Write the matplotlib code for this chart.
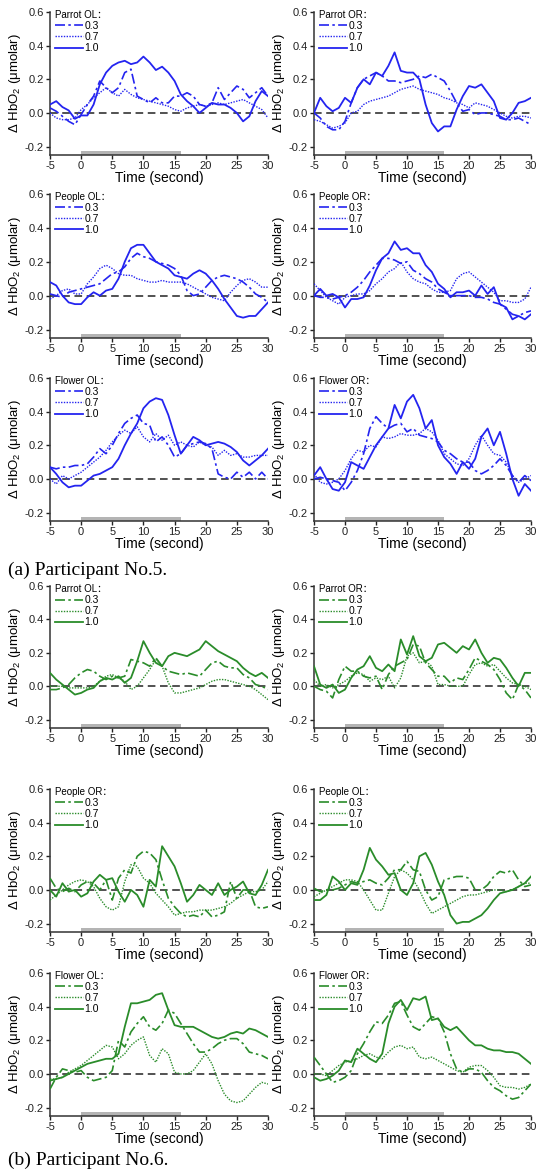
import matplotlib
matplotlib.use("Agg")
import matplotlib.pyplot as plt
import numpy as np

plt.rcParams['font.family'] = ['Liberation Sans', 'Noto Sans CJK SC', 'DejaVu Sans']
plt.rcParams['mathtext.fontset'] = 'custom'
plt.rcParams['mathtext.rm'] = 'Liberation Sans'
plt.rcParams['axes.unicode_minus'] = False

TIME = list(range(-5, 31))
STIM = (0, 16)
LEVELS = ["0.3", "0.7", "1.0"]
TITLES_A = ["Parrot OL\uff1a", "Parrot OR\uff1a", "People OL\uff1a", "People OR\uff1a", "Flower OL\uff1a", "Flower OR\uff1a"]
TITLES_B = ["Parrot OL\uff1a", "Parrot OR\uff1a", "People OR\uff1a", "People OL\uff1a", "Flower OL\uff1a", "Flower OR\uff1a"]
CAPTIONS = ["(a) Participant No.5.", "(b) Participant No.6."]
XTICKS = [-5, 0, 5, 10, 15, 20, 25, 30]
YTICKS = [-0.2, 0.0, 0.2, 0.4, 0.6]

# ---- Participant No.5 (blue) ----
A_PARROT_OL_03 = [0.03,0.01,-0.02,-0.05,-0.07,-0.01,0.05,0.10,0.19,0.15,0.12,0.15,0.24,0.26,0.10,0.08,0.06,0.09,0.06,0.06,0.10,0.10,0.12,0.10,0.05,0.04,0.06,0.15,0.08,0.12,0.16,0.14,0.09,0.12,0.15,0.10]
A_PARROT_OL_07 = [0.00,-0.03,-0.04,-0.04,-0.03,0.02,0.05,0.09,0.12,0.15,0.12,0.10,0.14,0.11,0.09,0.08,0.07,0.06,0.05,0.04,0.02,0.01,0.03,0.04,0.05,0.04,0.05,0.06,0.05,0.06,0.07,0.08,0.06,0.04,0.02,-0.03]
A_PARROT_OL_10 = [0.05,0.07,0.035,0.015,-0.035,-0.015,-0.015,0.05,0.17,0.24,0.28,0.30,0.31,0.29,0.30,0.335,0.30,0.255,0.275,0.24,0.19,0.11,0.07,0.04,0.00,0.03,0.06,0.05,0.05,0.03,0.00,-0.05,-0.02,0.07,0.13,0.10]

A_PARROT_OR_03 = [0.00,-0.03,-0.08,-0.10,-0.10,-0.05,0.06,0.15,0.20,0.22,0.24,0.22,0.19,0.19,0.18,0.19,0.20,0.22,0.21,0.23,0.21,0.19,0.13,0.06,0.01,0.02,-0.01,0.00,0.00,-0.01,-0.02,-0.04,-0.04,-0.03,-0.05,-0.07]
A_PARROT_OR_07 = [-0.04,-0.05,-0.07,-0.09,-0.08,-0.06,0.00,0.01,0.05,0.07,0.08,0.09,0.10,0.12,0.14,0.15,0.16,0.14,0.13,0.12,0.11,0.09,0.08,0.06,0.05,0.03,0.06,0.05,0.04,0.02,0.00,-0.02,-0.03,-0.02,-0.02,-0.03]
A_PARROT_OR_10 = [0.00,0.09,0.04,0.01,0.03,0.09,0.06,0.15,0.20,0.17,0.24,0.22,0.28,0.36,0.25,0.24,0.24,0.20,0.05,-0.06,-0.11,-0.08,-0.08,0.02,0.10,0.16,0.15,0.17,0.12,0.07,-0.03,-0.04,0.00,0.06,0.07,0.09]

A_PEOPLE_OL_03 = [0.01,0.00,-0.01,0.02,0.03,0.04,0.05,0.06,0.07,0.10,0.13,0.14,0.17,0.22,0.25,0.23,0.22,0.20,0.19,0.18,0.16,0.12,0.03,0.00,0.01,0.05,0.09,0.11,0.12,0.11,0.10,0.08,0.05,0.01,-0.01,-0.04]
A_PEOPLE_OL_07 = [-0.02,0.00,0.03,0.04,0.01,0.01,0.07,0.11,0.16,0.18,0.16,0.13,0.12,0.12,0.10,0.09,0.08,0.08,0.09,0.08,0.08,0.08,0.07,0.05,0.03,0.01,-0.01,-0.02,-0.03,0.02,0.06,0.09,0.10,0.08,0.05,0.05]
A_PEOPLE_OL_10 = [0.08,0.06,0.00,-0.04,-0.05,-0.05,-0.01,0.02,0.00,0.03,0.04,0.10,0.20,0.28,0.30,0.30,0.25,0.20,0.18,0.16,0.12,0.11,0.10,0.13,0.15,0.13,0.09,0.04,-0.02,-0.07,-0.12,-0.13,-0.12,-0.12,-0.08,-0.04]

A_PEOPLE_OR_03 = [0.00,-0.01,-0.01,-0.02,-0.01,0.00,0.02,0.05,0.09,0.14,0.18,0.22,0.22,0.21,0.19,0.20,0.15,0.13,0.10,0.08,0.04,0.02,0.00,0.00,0.00,0.00,-0.01,-0.01,-0.02,-0.04,-0.05,-0.08,-0.11,-0.12,-0.10,-0.09]
A_PEOPLE_OR_07 = [0.07,0.03,-0.01,-0.03,-0.05,-0.01,0.00,0.01,0.01,0.03,0.07,0.10,0.14,0.16,0.20,0.14,0.10,0.08,0.07,0.04,0.02,0.02,0.03,0.10,0.13,0.14,0.11,0.08,0.05,0.02,-0.03,-0.03,-0.04,-0.04,-0.02,0.05]
A_PEOPLE_OR_10 = [0.00,0.04,0.00,0.01,-0.01,-0.07,-0.02,-0.02,-0.01,0.06,0.15,0.22,0.25,0.32,0.27,0.28,0.25,0.25,0.18,0.14,0.07,0.04,-0.01,0.02,0.02,0.03,0.00,0.06,0.01,0.05,-0.05,-0.07,-0.14,-0.12,-0.14,-0.11]

A_FLOWER_OL_03 = [0.07,0.06,0.07,0.07,0.08,0.08,0.09,0.13,0.18,0.15,0.20,0.27,0.33,0.36,0.38,0.33,0.32,0.22,0.25,0.20,0.13,0.15,0.20,0.21,0.22,0.21,0.18,0.03,0.01,0.00,0.04,0.01,0.04,0.00,0.04,0.00]
A_FLOWER_OL_07 = [0.00,-0.03,0.02,0.00,0.02,0.04,0.07,0.10,0.13,0.17,0.22,0.26,0.29,0.27,0.31,0.25,0.22,0.27,0.23,0.26,0.20,0.22,0.20,0.19,0.22,0.20,0.19,0.14,0.17,0.14,0.15,0.13,0.13,0.14,0.14,0.14]
A_FLOWER_OL_10 = [0.07,0.03,-0.02,-0.05,-0.04,-0.04,-0.01,0.02,0.03,0.05,0.07,0.12,0.20,0.27,0.33,0.42,0.46,0.48,0.47,0.38,0.26,0.15,0.20,0.25,0.23,0.20,0.21,0.22,0.21,0.19,0.16,0.11,0.08,0.11,0.14,0.18]

A_FLOWER_OR_03 = [0.00,0.01,0.00,-0.01,-0.02,-0.07,-0.02,0.05,0.15,0.30,0.37,0.33,0.30,0.32,0.33,0.28,0.30,0.26,0.25,0.24,0.22,0.17,0.15,0.12,0.10,0.10,0.05,0.03,0.05,0.08,0.12,0.08,0.02,-0.02,0.02,-0.01]
A_FLOWER_OR_07 = [0.03,-0.02,-0.03,-0.02,0.00,0.05,0.12,0.17,0.16,0.20,0.19,0.25,0.24,0.25,0.27,0.26,0.26,0.27,0.30,0.28,0.23,0.15,0.12,0.09,0.08,0.12,0.20,0.26,0.20,0.15,0.14,0.10,0.02,-0.02,0.00,0.02]
A_FLOWER_OR_10 = [0.02,0.07,0.00,-0.06,-0.07,-0.02,0.10,0.08,0.06,0.13,0.20,0.25,0.30,0.44,0.36,0.46,0.50,0.42,0.30,0.35,0.20,0.13,0.09,0.03,0.10,0.06,0.12,0.25,0.30,0.20,0.28,0.15,0.00,-0.10,-0.03,-0.07]

# ---- Participant No.6 (green) ----
B_PARROT_OL_03 = [-0.02,-0.02,-0.01,0.01,0.05,0.08,0.10,0.09,0.06,0.04,0.06,0.05,0.06,0.16,0.15,0.14,0.12,0.17,0.12,0.09,0.08,0.07,0.08,0.07,0.06,0.10,0.14,0.15,0.12,0.11,0.11,0.07,0.05,0.01,0.00,-0.02]
B_PARROT_OL_07 = [0.00,0.00,0.00,-0.01,-0.01,-0.01,-0.01,0.00,0.03,0.06,0.07,0.05,0.03,-0.02,0.00,0.05,0.10,0.16,0.12,0.02,-0.04,-0.04,-0.03,-0.02,-0.01,0.01,0.03,0.04,0.04,0.03,0.02,0.01,0.00,-0.02,-0.05,-0.08]
B_PARROT_OL_10 = [0.08,0.04,0.01,-0.02,-0.05,-0.04,-0.02,-0.01,0.03,0.05,0.04,0.06,0.02,0.05,0.15,0.27,0.20,0.14,0.12,0.18,0.20,0.19,0.18,0.20,0.22,0.27,0.24,0.21,0.19,0.17,0.15,0.11,0.08,0.06,0.08,0.05]

B_PARROT_OR_03 = [0.00,-0.02,-0.03,-0.07,0.04,0.12,0.09,0.09,0.06,0.05,0.06,-0.02,0.07,0.12,0.14,0.16,0.25,0.24,0.14,0.10,0.06,0.06,0.02,0.05,0.04,0.10,0.17,0.15,0.13,0.10,0.04,-0.04,-0.08,0.01,-0.02,-0.07]
B_PARROT_OR_07 = [0.04,0.00,0.01,-0.01,0.01,0.03,0.06,0.08,0.07,0.03,0.05,0.04,0.06,-0.01,0.05,0.18,0.20,0.14,0.15,0.12,0.01,0.01,0.00,0.00,0.00,0.07,0.13,0.14,0.12,0.13,0.09,0.05,0.02,0.01,0.00,-0.02]
B_PARROT_OR_10 = [0.12,0.01,-0.01,0.01,-0.04,-0.02,0.05,0.10,0.12,0.18,0.11,0.09,0.13,0.09,0.28,0.19,0.30,0.18,0.15,0.17,0.25,0.26,0.23,0.20,0.24,0.22,0.28,0.20,0.14,0.17,0.16,0.11,0.05,0.00,0.08,0.08]

B_PEOPLE_OR_03 = [0.07,0.01,-0.01,0.01,-0.01,0.03,0.05,0.04,0.00,0.06,-0.06,0.07,0.12,0.10,0.20,0.23,0.22,0.18,0.06,-0.05,-0.10,-0.14,-0.16,-0.15,-0.16,-0.12,-0.16,-0.15,-0.13,0.05,-0.05,0.00,0.00,-0.10,-0.11,-0.10]
B_PEOPLE_OR_07 = [-0.06,-0.03,0.00,0.03,0.05,0.06,0.05,0.02,-0.05,-0.10,-0.12,-0.10,0.05,0.15,0.14,0.07,0.04,-0.02,-0.06,-0.10,-0.15,-0.14,-0.13,-0.13,-0.12,-0.12,-0.12,-0.11,-0.10,-0.08,-0.05,-0.03,-0.01,-0.01,0.00,0.05]
B_PEOPLE_OR_10 = [0.00,-0.04,0.04,-0.01,0.00,-0.04,-0.02,0.05,0.09,0.06,0.07,-0.01,-0.07,0.00,-0.03,-0.10,0.06,0.02,0.26,0.20,0.14,0.04,-0.07,-0.03,0.03,0.00,-0.03,0.04,-0.03,0.00,0.02,0.05,-0.02,-0.03,0.03,0.12]

B_PEOPLE_OL_03 = [0.01,-0.01,0.00,0.00,0.01,0.03,0.05,0.04,0.05,0.06,0.04,0.03,0.07,0.12,0.12,0.17,0.12,0.11,0.00,-0.06,-0.04,0.06,0.07,0.08,0.08,0.07,0.00,0.00,0.03,0.08,0.11,0.10,0.12,0.06,0.02,0.03]
B_PEOPLE_OL_07 = [-0.04,-0.02,0.00,0.02,0.04,0.06,0.06,0.05,0.00,-0.06,-0.12,-0.12,-0.02,0.08,0.12,0.10,0.06,0.00,-0.08,-0.14,-0.12,-0.10,-0.08,-0.06,-0.04,-0.03,-0.03,-0.02,-0.01,0.00,0.00,-0.01,0.00,0.02,0.04,0.04]
B_PEOPLE_OL_10 = [-0.06,-0.06,-0.03,0.08,0.05,0.00,0.04,0.03,0.12,0.25,0.18,0.14,0.09,0.10,0.00,-0.03,0.04,0.20,0.22,0.15,0.05,-0.03,-0.15,-0.20,-0.19,-0.19,-0.17,-0.15,-0.11,-0.06,-0.02,-0.01,0.00,0.02,0.04,0.08]

B_FLOWER_OL_03 = [-0.09,-0.02,0.03,0.02,0.01,0.02,-0.02,-0.04,-0.03,-0.02,0.02,0.20,0.16,0.25,0.30,0.34,0.28,0.26,0.30,0.38,0.36,0.30,0.24,0.18,0.13,0.13,0.15,0.18,0.20,0.21,0.21,0.18,0.13,0.12,0.11,0.09]
B_FLOWER_OL_07 = [-0.03,-0.03,-0.02,0.01,0.03,0.05,0.08,0.11,0.14,0.17,0.16,0.09,0.12,0.17,0.20,0.22,0.11,0.07,0.15,0.12,0.01,0.00,0.00,0.02,0.07,0.12,0.06,-0.04,-0.12,-0.16,-0.17,-0.16,-0.12,-0.08,-0.05,-0.06]
B_FLOWER_OL_10 = [-0.04,-0.03,-0.02,0.00,0.02,0.04,0.06,0.07,0.08,0.09,0.09,0.12,0.28,0.42,0.42,0.43,0.44,0.47,0.48,0.38,0.29,0.28,0.28,0.28,0.26,0.24,0.22,0.21,0.22,0.24,0.25,0.24,0.27,0.26,0.24,0.22]

B_FLOWER_OR_03 = [0.10,0.05,0.00,-0.05,-0.04,-0.02,0.02,0.12,0.18,0.25,0.31,0.30,0.35,0.42,0.43,0.35,0.28,0.26,0.30,0.34,0.33,0.25,0.12,0.03,0.01,0.03,0.03,0.01,-0.04,-0.08,-0.10,-0.13,-0.15,-0.14,-0.10,-0.06]
B_FLOWER_OR_07 = [0.00,0.00,-0.01,0.02,0.05,0.07,0.08,0.09,0.11,0.12,0.10,0.09,0.13,0.16,0.17,0.15,0.16,0.10,0.09,0.10,0.08,0.06,0.04,0.02,0.01,0.04,0.05,0.05,0.02,-0.02,-0.07,-0.08,-0.08,-0.09,-0.08,-0.06]
B_FLOWER_OR_10 = [-0.02,-0.04,-0.03,-0.01,0.02,0.08,0.07,0.15,0.12,0.09,0.07,0.12,0.30,0.40,0.44,0.38,0.45,0.44,0.46,0.32,0.33,0.28,0.26,0.28,0.24,0.20,0.17,0.17,0.15,0.14,0.14,0.13,0.13,0.12,0.09,0.06]

PANELS_A = [
    (A_PARROT_OL_03, A_PARROT_OL_07, A_PARROT_OL_10),
    (A_PARROT_OR_03, A_PARROT_OR_07, A_PARROT_OR_10),
    (A_PEOPLE_OL_03, A_PEOPLE_OL_07, A_PEOPLE_OL_10),
    (A_PEOPLE_OR_03, A_PEOPLE_OR_07, A_PEOPLE_OR_10),
    (A_FLOWER_OL_03, A_FLOWER_OL_07, A_FLOWER_OL_10),
    (A_FLOWER_OR_03, A_FLOWER_OR_07, A_FLOWER_OR_10),
]
PANELS_B = [
    (B_PARROT_OL_03, B_PARROT_OL_07, B_PARROT_OL_10),
    (B_PARROT_OR_03, B_PARROT_OR_07, B_PARROT_OR_10),
    (B_PEOPLE_OR_03, B_PEOPLE_OR_07, B_PEOPLE_OR_10),
    (B_PEOPLE_OL_03, B_PEOPLE_OL_07, B_PEOPLE_OL_10),
    (B_FLOWER_OL_03, B_FLOWER_OL_07, B_FLOWER_OL_10),
    (B_FLOWER_OR_03, B_FLOWER_OR_07, B_FLOWER_OR_10),
]

BLUE = '#2424f0'
GREEN = '#2a8c2a'
STYLES = [(0, (6, 2, 1.5, 2)), (0, (1, 1)), '-']
WIDTHS = [1.2, 1.0, 1.3]

W, H = 540, 1171
fig = plt.figure(figsize=(W / 100, H / 100), dpi=100)

# pixel layout: (top, bottom) of each row; left/right of columns
ROWS = [(12, 155), (194, 338), (378, 521), (586, 728), (789, 932), (973, 1116)]
COLS = [(50, 268), (314, 531)]


def make_axes(row, col):
    top, bot = ROWS[row]
    l, r = COLS[col]
    return fig.add_axes([l / W, 1 - bot / H, (r - l) / W, (bot - top) / H])


def draw_panel(ax, series, title, color):
    ax.set_xlim(-5, 30)
    ax.set_ylim(-0.25, 0.6)
    ax.axhline(0, color='#222222', lw=1.1, ls=(0, (5, 3)), zorder=1)
    ax.fill_between(STIM, -0.25, -0.226, color='#b4b4b4', lw=0, zorder=2)
    handles = []
    for vals, lab, ls, lw in zip(series, LEVELS, STYLES, WIDTHS):
        h, = ax.plot(TIME, vals, color=color, ls=ls, lw=lw, label=lab, zorder=3)
        handles.append(h)
    for s in ['top', 'right']:
        ax.spines[s].set_visible(False)
    for s in ['left', 'bottom']:
        ax.spines[s].set_linewidth(1.1)
        ax.spines[s].set_color('#333333')
    ax.set_xticks(XTICKS)
    ax.set_xticklabels([str(v) for v in XTICKS])
    ax.set_yticks(YTICKS)
    ax.set_yticklabels([f"{v:.1f}" for v in YTICKS])
    ax.tick_params(direction='out', length=3, width=1, labelsize=8, pad=1.5, colors='#222222')
    ax.set_xlabel("Time (second)", fontsize=10, labelpad=0)
    ax.set_ylabel("\u0394 HbO$_2$ (\u03bcmolar)", fontsize=9.5, labelpad=1)
    leg = ax.legend(handles=handles, title=title, loc='upper left', bbox_to_anchor=(0.0, 1.05),
                    frameon=False, fontsize=7.5, title_fontsize=7, handlelength=2.7,
                    handletextpad=0.1, labelspacing=0.1, borderaxespad=0.3, borderpad=0.2)
    leg._legend_box.align = 'left'


for i, (series, title) in enumerate(zip(PANELS_A, TITLES_A)):
    ax = make_axes(i // 2, i % 2)
    draw_panel(ax, series, title, BLUE)
for i, (series, title) in enumerate(zip(PANELS_B, TITLES_B)):
    ax = make_axes(3 + i // 2, i % 2)
    draw_panel(ax, series, title, GREEN)

fig.text(8 / W, 1 - 570 / H, CAPTIONS[0], family='Liberation Serif', fontsize=14, va='center', ha='left')
fig.text(8 / W, 1 - 1160 / H, CAPTIONS[1], family='Liberation Serif', fontsize=14, va='center', ha='left')

fig.savefig('out.png', dpi=100, facecolor='white')
